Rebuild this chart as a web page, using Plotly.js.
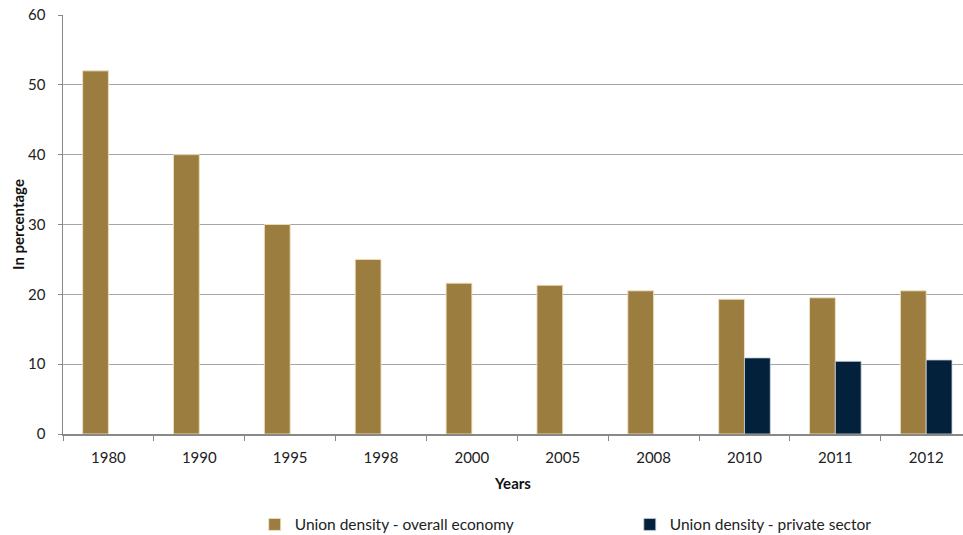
<!DOCTYPE html>
<html>
<head>
<meta charset="utf-8">
<script src="https://cdn.plot.ly/plotly-3.0.1.min.js"></script>
<style>html,body{margin:0;padding:0;background:#fff;}#chart{width:963px;height:535px;}</style>
</head>
<body>
<div id="chart"></div>
<script>
const years = ["1980","1990","1995","1998","2000","2005","2008","2010","2011","2012"];
const overallEconomy = [52, 40, 30, 25, 21.6, 21.3, 20.5, 19.3, 19.5, 20.5];
const privateSector = [null, null, null, null, null, null, null, 10.9, 10.4, 10.6];
const seriesNames = ["Union density - overall economy", "Union density - private sector"];
const yTicks = [0, 10, 20, 30, 40, 50, 60];

const font = "Lato, 'Open Sans', sans-serif";

const traces = [
  {
    type: "bar", x: years, y: overallEconomy, name: seriesNames[0], legend: "legend",
    marker: {color: "#9B7D40", line: {color: "rgba(240,225,190,0.9)", width: 1}},
    hoverinfo: "x+y"
  },
  {
    type: "bar", x: years, y: privateSector, name: seriesNames[1], legend: "legend2",
    marker: {color: "#03213A", line: {color: "rgba(200,210,220,0.8)", width: 1}},
    hoverinfo: "x+y"
  }
];

const legendBase = {
  orientation: "h", xref: "container", yref: "container",
  xanchor: "left", yanchor: "middle", y: 0.019,
  font: {family: font, size: 15.5, color: "#222"},
  bgcolor: "rgba(0,0,0,0)", borderwidth: 0
};

const layout = {
  width: 963, height: 535,
  margin: {l: 63, r: 0, t: 15, b: 101},
  paper_bgcolor: "#fff", plot_bgcolor: "#fff",
  font: {family: font, size: 15, color: "#222"},
  barmode: "group",
  bargap: 0.432, bargroupgap: 0,
  showlegend: true,
  legend: Object.assign({}, legendBase, {x: 0.2645}),
  legend2: Object.assign({}, legendBase, {x: 0.654}),
  xaxis: {
    type: "category", range: [-0.5, 9.405],
    showline: true, linecolor: "#888", linewidth: 1.5,
    ticks: "outside", tickson: "boundaries", ticklen: 5, tickcolor: "#888",
    showgrid: false, zeroline: false,
    ticklabelstandoff: 9,
    tickfont: {family: font, size: 15, color: "#222"},
    title: {text: "Years", font: {family: font, size: 15, color: "#111", weight: "bold"}, standoff: 14}
  },
  yaxis: {
    range: [0, 60], tickvals: yTicks,
    showline: true, linecolor: "#888", linewidth: 1.5,
    ticks: "outside", ticklen: 4, tickcolor: "#888",
    showgrid: true, gridcolor: "#A6A6A6", gridwidth: 1,
    zeroline: false,
    ticklabelstandoff: 9,
    tickfont: {family: font, size: 15, color: "#222"},
    title: {text: "In percentage", font: {family: font, size: 15, color: "#111", weight: "bold"}, standoff: 0}
  }
};

Plotly.newPlot("chart", traces, layout, {displayModeBar: false, staticPlot: true});
</script>
</body>
</html>
